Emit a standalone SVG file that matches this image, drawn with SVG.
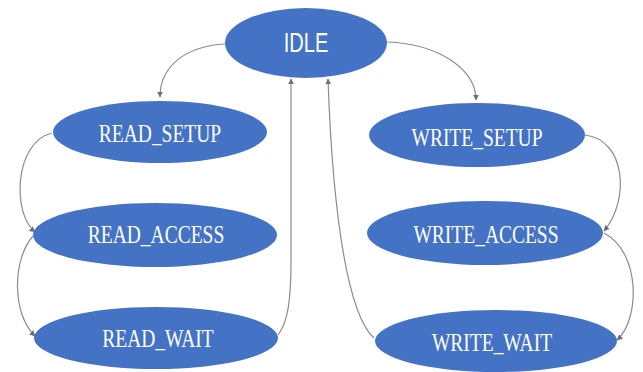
<svg xmlns="http://www.w3.org/2000/svg" width="643" height="372" viewBox="0 0 643 372">
  <style>
    .state { fill: #4472C4; }
    .lbl { fill: #ffffff; font-family: "Liberation Serif", "Times New Roman", serif; font-size: 19.5px; text-anchor: middle; }
    .lbl-sans { fill: #ffffff; font-family: "Liberation Sans", Arial, sans-serif; font-size: 20px; text-anchor: middle; }
    .edge { fill: none; stroke: #8c8c8c; stroke-width: 1.2; marker-end: url(#arrow); }
  </style>
  <defs>
    <marker id="arrow" viewBox="0 0 10 10" refX="9" refY="5" markerWidth="6" markerHeight="6" markerUnits="userSpaceOnUse" orient="auto">
      <path d="M0,0 L10,5 L0,10 Z" fill="#6f6f6f"/>
    </marker>
  </defs>
  <rect width="643" height="372" fill="#ffffff"/>

  <g id="connectors">
    <path class="edge" d="M225,44 C186,46 160,66 160,97"/>
    <path class="edge" d="M387,42 C440,44 476,70 476,100"/>
    <path class="edge" d="M52,133 C14,142 12,214 35,232"/>
    <path class="edge" d="M33,236 C12,260 12,314 35,336"/>
    <path class="edge" d="M278,335 C288,322 291,300 291,260 L291,79"/>
    <path class="edge" d="M374,338 C349,316 333,222 328,79"/>
    <path class="edge" d="M585,135 C626,140 630,200 604,231"/>
    <path class="edge" d="M604,233 C641,252 640,320 617,340"/>
  </g>

  <g id="idle">
    <ellipse class="state" cx="306" cy="43" rx="81" ry="35"/>
    <text class="lbl-sans" transform="translate(306,52) scale(1,1.35)">IDLE</text>
  </g>
  <g id="read_setup">
    <ellipse class="state" cx="160" cy="132" rx="107" ry="31"/>
    <text class="lbl" transform="translate(160,142) scale(1,1.25)">READ_SETUP</text>
  </g>
  <g id="read_access">
    <ellipse class="state" cx="155" cy="235" rx="122" ry="32"/>
    <text class="lbl" transform="translate(156,243) scale(1,1.25)">READ_ACCESS</text>
  </g>
  <g id="read_wait">
    <ellipse class="state" cx="156" cy="338" rx="122" ry="31"/>
    <text class="lbl" transform="translate(158,347) scale(1,1.25)">READ_WAIT</text>
  </g>
  <g id="write_setup">
    <ellipse class="state" cx="477" cy="135" rx="108" ry="32"/>
    <text class="lbl" transform="translate(477,146) scale(1,1.25)">WRITE_SETUP</text>
  </g>
  <g id="write_access">
    <ellipse class="state" cx="485" cy="233" rx="118" ry="32"/>
    <text class="lbl" transform="translate(486,243) scale(1,1.25)">WRITE_ACCESS</text>
  </g>
  <g id="write_wait">
    <ellipse class="state" cx="496" cy="341" rx="121" ry="31"/>
    <text class="lbl" transform="translate(492,351) scale(1,1.25)">WRITE_WAIT</text>
  </g>
</svg>
